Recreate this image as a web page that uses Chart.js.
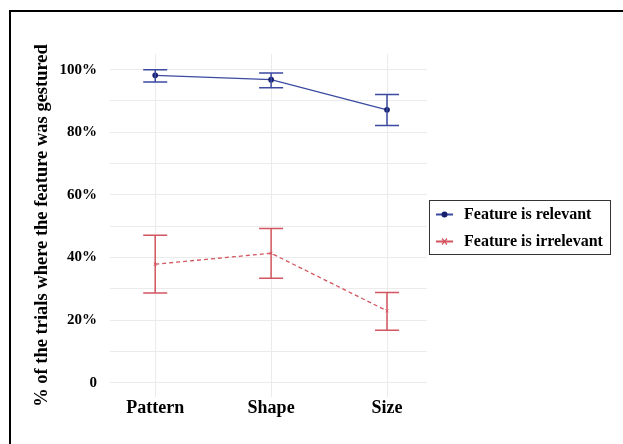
<!DOCTYPE html>
<html>
<head>
<meta charset="utf-8">
<script src="https://cdn.jsdelivr.net/npm/chart.js@4.4.1/dist/chart.umd.min.js"></script>
<style>
  html, body { margin: 0; padding: 0; background: #fff; }
  #wrap { position: relative; width: 623px; height: 444px; overflow: hidden; }
  #frame { position: absolute; left: 9px; top: 10px; width: 700px; height: 500px;
           border-left: 2px solid #000; border-top: 2px solid #000; }
  #c { position: absolute; left: 0; top: 0; }
</style>
</head>
<body>
<div id="wrap">
  <div id="frame"></div>
  <canvas id="c" width="623" height="444"></canvas>
</div>
<script>
const categories = ['Pattern', 'Shape', 'Size'];
const yTicks = [0, 20, 40, 60, 80, 100];

const relevantMean  = [98.2, 96.8, 87.2];
const relevantLow   = [96.1, 94.2, 82.2];
const relevantHigh  = [100.0, 98.9, 92.1];

const irrelevantMean = [37.9, 41.4, 23.0];
const irrelevantLow  = [28.7, 33.4, 16.8];
const irrelevantHigh = [47.1, 49.3, 28.9];

const blue = '#3a4aa0';
const blueDot = '#16206e';
const red = '#d2555f';

const serif = "'Liberation Serif', 'Times New Roman', serif";

const toPoints = arr => arr.map((v, i) => ({ x: i + 1, y: v }));

// error bars drawn through the chart scales
const errorBars = {
  id: 'errorBars',
  afterDatasetsDraw(chart) {
    const { ctx, scales: { x, y } } = chart;
    chart.data.datasets.forEach(ds => {
      ctx.save();
      ctx.strokeStyle = ds.borderColor;
      ctx.lineWidth = 1.5;
      ds.low.forEach((lo, i) => {
        const px = x.getPixelForValue(i + 1);
        const pLo = y.getPixelForValue(lo);
        const pHi = y.getPixelForValue(ds.high[i]);
        ctx.beginPath();
        ctx.moveTo(px, pLo); ctx.lineTo(px, pHi);
        ctx.moveTo(px - 12, pLo); ctx.lineTo(px + 12, pLo);
        ctx.moveTo(px - 12, pHi); ctx.lineTo(px + 12, pHi);
        ctx.stroke();
      });
      ctx.restore();
    });
  }
};

// boxed legend on the right
const boxLegend = {
  id: 'boxLegend',
  afterDraw(chart) {
    const { ctx } = chart;
    const left = 429, top = 200, w = 181, h = 54;
    ctx.save();
    ctx.strokeStyle = '#333';
    ctx.lineWidth = 1;
    ctx.strokeRect(left + 0.5, top + 0.5, w, h);
    ctx.font = 'bold 16px ' + serif;
    ctx.textBaseline = 'middle';
    ctx.fillStyle = '#000';
    chart.data.datasets.forEach((ds, i) => {
      const cy = top + 14.5 + i * 27;
      ctx.strokeStyle = ds.borderColor;
      ctx.lineWidth = 2;
      ctx.beginPath();
      ctx.moveTo(436, cy); ctx.lineTo(453, cy);
      ctx.stroke();
      if (i === 0) {
        ctx.fillStyle = blueDot;
        ctx.beginPath();
        ctx.arc(444.5, cy, 3, 0, Math.PI * 2);
        ctx.fill();
      } else {
        ctx.lineWidth = 1.2;
        ctx.beginPath();
        ctx.moveTo(442, cy - 3); ctx.lineTo(447, cy + 3);
        ctx.moveTo(442, cy + 3); ctx.lineTo(447, cy - 3);
        ctx.stroke();
      }
      ctx.fillStyle = '#000';
      ctx.fillText(ds.label, 464, cy + 0.5);
    });
    ctx.restore();
  }
};

new Chart(document.getElementById('c'), {
  type: 'line',
  data: {
    datasets: [
      {
        label: 'Feature is relevant',
        data: toPoints(relevantMean),
        low: relevantLow,
        high: relevantHigh,
        borderColor: blue,
        borderWidth: 1.3,
        pointStyle: 'circle',
        pointRadius: 2.2,
        pointBackgroundColor: blueDot,
        pointBorderColor: blueDot,
        tension: 0
      },
      {
        label: 'Feature is irrelevant',
        data: toPoints(irrelevantMean),
        low: irrelevantLow,
        high: irrelevantHigh,
        borderColor: red,
        borderWidth: 1.3,
        borderDash: [4, 3],
        pointStyle: 'crossRot',
        pointRadius: 2,
        pointBorderColor: red,
        pointBorderWidth: 1,
        tension: 0
      }
    ]
  },
  options: {
    responsive: false,
    animation: false,
    layout: { padding: { left: 0, right: 196, top: 54, bottom: 0 } },
    plugins: {
      legend: { display: false },
      tooltip: { enabled: false }
    },
    scales: {
      x: {
        type: 'linear',
        min: 0.61,
        max: 3.345,
        afterBuildTicks: s => { s.ticks = categories.map((c, i) => ({ value: i + 1 })); },
        afterFit: s => { s.height = 47; },
        ticks: {
          callback: v => categories[v - 1],
          font: { family: serif, size: 18, weight: 'bold' },
          color: '#000',
          padding: 1,
          maxRotation: 0
        },
        grid: { color: '#ebebeb', lineWidth: 1, drawTicks: false },
        border: { display: false }
      },
      y: {
        min: -4.5,
        max: 105,
        afterBuildTicks: s => {
          const t = [];
          for (let v = 0; v <= 100; v += 10) t.push({ value: v });
          s.ticks = t;
        },
        afterFit: s => { s.width = 110; },
        ticks: {
          callback: v => yTicks.includes(v) ? (v === 0 ? '0' : v + '%') : '',
          font: { family: serif, size: 15, weight: 'bold' },
          color: '#000',
          padding: 13
        },
        title: {
          display: true,
          text: '% of the trials where the feature was gestured',
          font: { family: serif, size: 18.5, weight: 'bold' },
          color: '#000',
          padding: { top: 31, bottom: 0 }
        },
        grid: { color: '#ebebeb', lineWidth: 1, drawTicks: false },
        border: { display: false }
      }
    }
  },
  plugins: [errorBars, boxLegend]
});
</script>
</body>
</html>
